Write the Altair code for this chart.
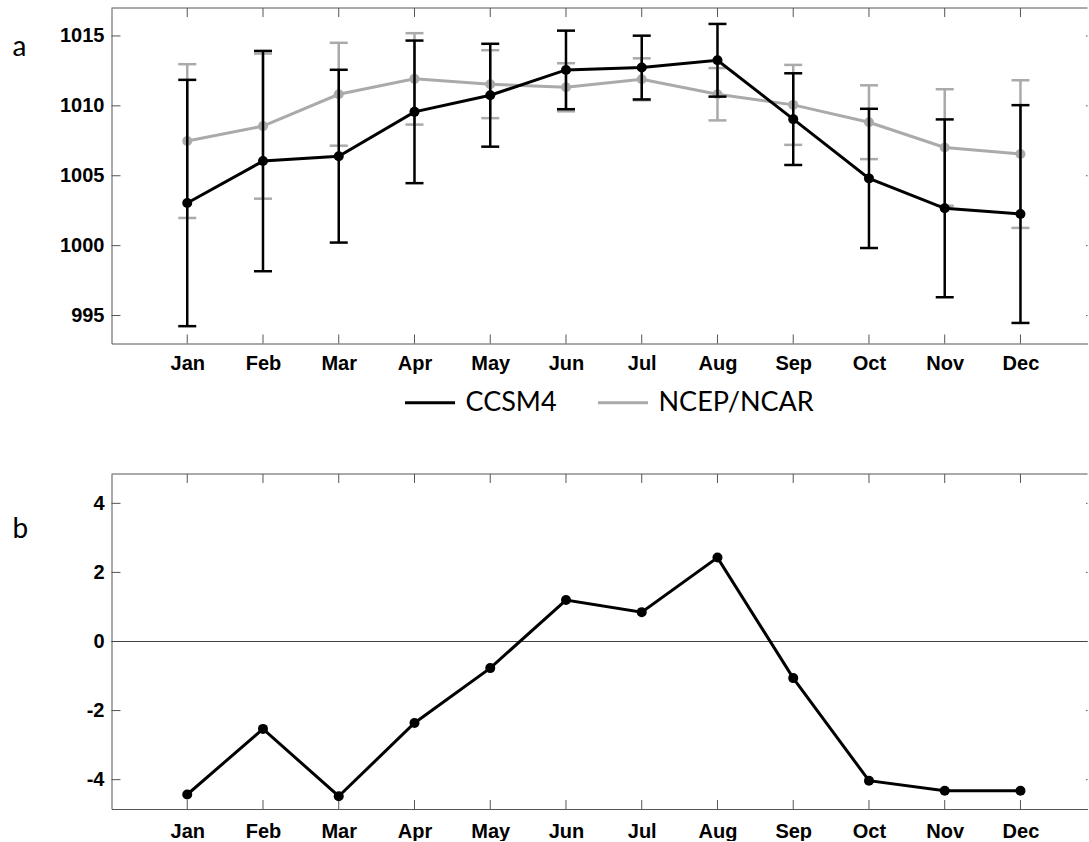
import json
import altair as alt
import pandas as pd

# Monthly mean sea-level pressure (hPa) with +/- one standard deviation
months = ["Jan", "Feb", "Mar", "Apr", "May", "Jun", "Jul", "Aug", "Sep", "Oct", "Nov", "Dec"]
month_num = list(range(1, 13))

ccsm4_mean = [1003.05, 1006.05, 1006.40, 1009.57, 1010.76, 1012.57,
              1012.74, 1013.26, 1009.05, 1004.81, 1002.67, 1002.26]
ccsm4_sd = [8.81, 7.88, 6.18, 5.10, 3.68, 2.81, 2.28, 2.60, 3.28, 4.98, 6.36, 7.79]

ncep_mean = [1007.48, 1008.55, 1010.83, 1011.93, 1011.55, 1011.33,
             1011.90, 1010.83, 1010.07, 1008.83, 1007.02, 1006.55]
ncep_sd = [5.50, 5.19, 3.68, 3.27, 2.43, 1.72, 1.50, 1.87, 2.86, 2.64, 4.17, 5.28]

# CCSM4 minus NCEP/NCAR
bias = [-4.43, -2.53, -4.48, -2.36, -0.77, 1.20, 0.85, 2.43, -1.06, -4.03, -4.32, -4.32]

series_names = ["CCSM4", "NCEP/NCAR"]
yticks_a = [995, 1000, 1005, 1010, 1015]
yticks_b = [-4, -2, 0, 2, 4]

# ---- styling ----
W = 976
HA = 335.5
HB = 335
X_DOMAIN = [0, 12.885]
YA_DOMAIN = [993, 1017]
YB_DOMAIN = [-4.85, 4.85]
FRAME = "#555555"
GRAY = "#aaaaaa"
TICK = 9
AX_FONT = "Liberation Sans"
TXT_FONT = "Lato"
DOT = 100


def series_frame(mean, sd, name):
    return pd.DataFrame({
        "m": month_num,
        "mean": mean,
        "lo": [a - s for a, s in zip(mean, sd)],
        "hi": [a + s for a, s in zip(mean, sd)],
        "series": name,
    })


df_c = series_frame(ccsm4_mean, ccsm4_sd, series_names[0])
df_n = series_frame(ncep_mean, ncep_sd, series_names[1])
df_b = pd.DataFrame({"m": month_num, "bias": bias})

label_expr = json.dumps(months) + "[datum.value - 1]"


def x_axis(pad):
    return alt.Axis(values=month_num, labelExpr=label_expr, title=None, ticks=False, tickSize=0,
                    grid=False, domainColor=FRAME, domainWidth=1, labelFont=AX_FONT,
                    labelFontSize=20, labelFontWeight="bold", labelColor="black",
                    labelAngle=0, labelOverlap=False, labelFlush=False, labelPadding=pad)


x_axis_a = x_axis(10)
x_axis_b = x_axis(12)


def xs(axis):
    return alt.X("m:Q", scale=alt.Scale(domain=X_DOMAIN, nice=False, zero=False), axis=axis)


def y_axis(values):
    return alt.Axis(values=values, labelExpr="'' + datum.value", title=None, ticks=False,
                    tickSize=0, grid=False, domainColor=FRAME, domainWidth=1,
                    labelFont=AX_FONT, labelFontSize=20, labelFontWeight="bold",
                    labelColor="black", labelPadding=7.5, labelFlush=False, labelOverlap=False)


def ya(field):
    return alt.Y(field, type="quantitative",
                 scale=alt.Scale(domain=YA_DOMAIN, nice=False, zero=False), axis=y_axis(yticks_a))


def yb(field):
    return alt.Y(field, type="quantitative",
                 scale=alt.Scale(domain=YB_DOMAIN, nice=False, zero=False), axis=y_axis(yticks_b))


def frame_layers(H, yfun, yticks, xaxis):
    xt = pd.DataFrame({"m": month_num})
    yt = pd.DataFrame({"v": yticks})
    one = pd.DataFrame({"k": [0]})
    top_border = alt.Chart(one).mark_rule(color=FRAME, strokeWidth=1).encode(
        x=alt.value(0), x2=alt.value(W), y=alt.value(0))
    top_ticks = alt.Chart(xt).mark_rule(color=FRAME, strokeWidth=1).encode(
        x=xs(xaxis), y=alt.value(0), y2=alt.value(TICK))
    bottom_ticks = alt.Chart(xt).mark_rule(color=FRAME, strokeWidth=1).encode(
        x=xs(xaxis), y=alt.value(H), y2=alt.value(H - TICK))
    left_ticks = alt.Chart(yt).mark_rule(color=FRAME, strokeWidth=1).encode(
        y=yfun("v"), x=alt.value(0), x2=alt.value(TICK))
    right_ticks = alt.Chart(yt).mark_rule(color=FRAME, strokeWidth=1).encode(
        y=yfun("v"), x=alt.value(W - 1.5), x2=alt.value(W))
    return [top_border, top_ticks, bottom_ticks, left_ticks, right_ticks]


color = alt.Color(
    "series:N",
    scale=alt.Scale(domain=series_names, range=["black", GRAY]),
    legend=alt.Legend(
        orient="none", legendX=292, legendY=368, direction="horizontal", title=None,
        symbolType="stroke", symbolSize=2500, symbolStrokeWidth=3,
        labelFont=TXT_FONT, labelFontSize=27, labelColor="black", labelOffset=9,
        columnPadding=34, labelLimit=0, padding=0,
    ),
)


def series_layers(df, col):
    bars = alt.Chart(df).mark_rule(color=col, strokeWidth=2.5).encode(
        x=xs(x_axis_a), y=ya("lo"), y2="hi:Q")
    cap_hi = alt.Chart(df).mark_tick(color=col, orient="horizontal", size=18, thickness=2.5,
                                     opacity=1).encode(x=xs(x_axis_a), y=ya("hi"))
    cap_lo = alt.Chart(df).mark_tick(color=col, orient="horizontal", size=18, thickness=2.5,
                                     opacity=1).encode(x=xs(x_axis_a), y=ya("lo"))
    line = alt.Chart(df).mark_line(strokeWidth=3).encode(x=xs(x_axis_a), y=ya("mean"), color=color)
    pts = alt.Chart(df).mark_circle(size=DOT, opacity=1, color=col).encode(
        x=xs(x_axis_a), y=ya("mean"))
    return [bars, cap_hi, cap_lo, line, pts]


def panel_letter(letter, ypos):
    return alt.Chart(pd.DataFrame({"t": [letter]})).mark_text(
        align="left", baseline="alphabetic", font=TXT_FONT, fontSize=28, color="black"
    ).encode(x=alt.value(-99), y=alt.value(ypos), text="t:N")


panel_a = alt.layer(
    *frame_layers(HA, ya, yticks_a, x_axis_a),
    *series_layers(df_n, GRAY),
    *series_layers(df_c, "black"),
    panel_letter("a", 47.5),
).properties(width=W, height=HA)

zero_line = alt.Chart(pd.DataFrame({"z": [0]})).mark_rule(color="#444444", strokeWidth=1).encode(
    y=yb("z"), x=alt.value(0), x2=alt.value(W))
bias_line = alt.Chart(df_b).mark_line(color="black", strokeWidth=3).encode(
    x=xs(x_axis_b), y=yb("bias"))
bias_pts = alt.Chart(df_b).mark_circle(size=DOT, opacity=1, color="black").encode(
    x=xs(x_axis_b), y=yb("bias"))

panel_b = alt.layer(
    *frame_layers(HB, yb, yticks_b, x_axis_b),
    zero_line, bias_line, bias_pts,
    panel_letter("b", 63.7),
).properties(width=W, height=HB)

chart = alt.vconcat(panel_a, panel_b, spacing=130, bounds="flush").properties(
    padding={"left": 12.5, "top": 7, "right": 0, "bottom": 0}
).configure_view(stroke=None)

chart.save("out.html", embed_options={"renderer": "svg", "actions": False})
